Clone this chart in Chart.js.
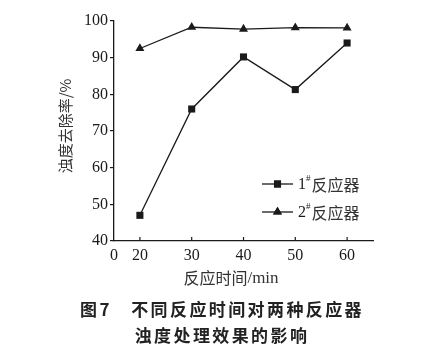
<!DOCTYPE html>
<html>
<head>
<meta charset="utf-8">
<script src="https://cdn.jsdelivr.net/npm/chart.js@4.4.1/dist/chart.umd.min.js"></script>
<style>
  html, body { margin: 0; padding: 0; background: #fff; }
  #wrap { width: 437px; height: 347px; }
</style>
</head>
<body>
<div id="wrap"><canvas id="chart" width="437" height="347"></canvas></div>
<script>
// 反应时间 (min) 与两种反应器的浊度去除率 (%)
const times = [20, 30, 40, 50, 60];
const reactor1 = [47, 76, 90.2, 81.3, 94];
const reactor2 = [92.5, 98.3, 97.8, 98.2, 98.1];
const seriesNames = ['1', '2'];          // 图例前的编号, 后接上标 #
const xTicks = [15, 20, 30, 40, 50, 60]; // 15 处显示原点 "0"
const yTicks = [40, 50, 60, 70, 80, 90, 100];
const yTitle = '浊度去除率/%';
const xTitle = ['反应时间', '/min'];
const caption = ['图7\u3000不同反应时间对两种反应器', '浊度处理效果的影响'];

const ink = '#1a1a1a';
const serif = '"Liberation Serif", "DejaVu Serif", serif';
const cjk = '"Noto Sans CJK SC", sans-serif';

// 文字、图例、向内的 x 轴刻度都在这里画
const extras = {
    id: 'extras',
    afterDraw(chart) {
        const ctx = chart.ctx;
        const xs = chart.scales.x, ys = chart.scales.y;
        ctx.save();
        ctx.strokeStyle = ink;
        ctx.fillStyle = ink;

        // x 轴刻度线 (朝内)
        ctx.lineWidth = 1.2;
        times.forEach(t => {
            const px = xs.getPixelForValue(t);
            ctx.beginPath();
            ctx.moveTo(px, ys.bottom);
            ctx.lineTo(px, ys.bottom - 4);
            ctx.stroke();
        });

        // 纵轴标题
        ctx.save();
        ctx.translate(65, 126);
        ctx.rotate(-Math.PI / 2);
        ctx.font = '15px ' + cjk;
        ctx.textAlign = 'center';
        ctx.textBaseline = 'middle';
        ctx.fillStyle = '#333';
        ctx.fillText(yTitle, 0, 0);
        ctx.restore();

        // 横轴标题: 中文 + 西文单位
        ctx.textBaseline = 'middle';
        ctx.textAlign = 'left';
        ctx.fillStyle = '#333';
        ctx.font = '16px ' + cjk;
        const wa = ctx.measureText(xTitle[0]).width;
        ctx.font = '17px ' + serif;
        const wb = ctx.measureText(xTitle[1]).width;
        const x0 = 231 - (wa + wb) / 2;
        ctx.font = '16px ' + cjk;
        ctx.fillText(xTitle[0], x0, 278);
        ctx.font = '17px ' + serif;
        ctx.fillText(xTitle[1], x0 + wa, 279);

        // 图例
        chart.data.datasets.forEach((ds, i) => {
            const y = 184 + i * 28;
            ctx.strokeStyle = ink;
            ctx.lineWidth = 1.3;
            ctx.beginPath();
            ctx.moveTo(262, y);
            ctx.lineTo(293, y);
            ctx.stroke();
            Chart.helpers.drawPoint(ctx, {
                pointStyle: ds.pointStyle,
                radius: ds.pointRadius,
                rotation: 0,
                borderWidth: 0
            }, 277.5, y);
            ctx.fillStyle = ink;
            ctx.fill();
            ctx.textAlign = 'left';
            ctx.textBaseline = 'middle';
            ctx.font = '16px ' + serif;
            ctx.fillText(seriesNames[i], 298, y + 1);
            const w1 = ctx.measureText(seriesNames[i]).width;
            ctx.font = '9px ' + serif;
            ctx.fillText('#', 298 + w1, y - 5);
            const w2 = ctx.measureText('#').width;
            ctx.font = '16px ' + cjk;
            ctx.fillStyle = '#333';
            ctx.fillText('反应器', 298 + w1 + w2 + 1, y + 1);
        });

        // 图题
        ctx.fillStyle = '#222';
        ctx.font = 'bold 17px ' + cjk;
        ctx.textAlign = 'center';
        ctx.textBaseline = 'middle';
        ctx.letterSpacing = '2.4px';
        ctx.fillText(caption[0], 222, 310);
        ctx.fillText(caption[1], 222, 336);
        ctx.restore();
    }
};

new Chart(document.getElementById('chart'), {
    type: 'line',
    data: {
        datasets: [{
            label: seriesNames[0] + '#反应器',
            data: times.map((t, i) => ({ x: t, y: reactor1[i] })),
            borderColor: ink,
            backgroundColor: ink,
            borderWidth: 1.3,
            pointStyle: 'rect',
            pointRadius: 5,
            pointBorderWidth: 0,
            tension: 0
        }, {
            label: seriesNames[1] + '#反应器',
            data: times.map((t, i) => ({ x: t, y: reactor2[i] })),
            borderColor: ink,
            backgroundColor: ink,
            borderWidth: 1.3,
            pointStyle: 'triangle',
            pointRadius: 5.2,
            pointBorderWidth: 0,
            tension: 0
        }]
    },
    options: {
        responsive: false,
        animation: false,
        layout: { padding: { top: 21, right: 64, left: 0, bottom: 0 } },
        plugins: {
            legend: { display: false },
            tooltip: { enabled: false },
            title: { display: false }
        },
        scales: {
            x: {
                type: 'linear',
                min: 15,
                max: 65,
                afterBuildTicks: s => { s.ticks = xTicks.map(v => ({ value: v })); },
                afterFit: s => { s.height = 106; },
                grid: { display: false },
                border: { display: true, color: ink, width: 1.3 },
                ticks: {
                    color: ink,
                    padding: -3,
                    maxRotation: 0,
                    autoSkip: false,
                    font: { family: serif, size: 16 },
                    callback: v => (v === 15 ? '0' : v)
                }
            },
            y: {
                min: 40,
                max: 100,
                afterBuildTicks: s => { s.ticks = yTicks.map(v => ({ value: v })); },
                afterFit: s => { s.width = 114; },
                grid: {
                    drawOnChartArea: false,
                    drawTicks: true,
                    tickLength: 4,
                    color: ink,
                    lineWidth: 1.2
                },
                border: { display: true, color: ink, width: 1.3 },
                ticks: {
                    color: ink,
                    padding: 2,
                    font: { family: serif, size: 16 }
                }
            }
        }
    },
    plugins: [extras]
});
</script>
</body>
</html>
